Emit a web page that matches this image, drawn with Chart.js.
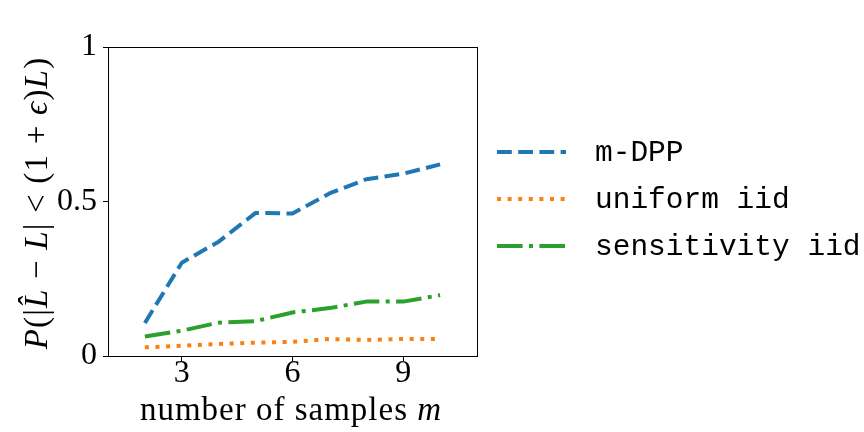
<!DOCTYPE html>
<html>
<head>
<meta charset="utf-8">
<script src="https://cdn.jsdelivr.net/npm/chart.js@4.4.1/dist/chart.umd.min.js"></script>
<style>
    html, body { margin: 0; padding: 0; background: #fff; }
</style>
</head>
<body>
<canvas id="chart" width="864" height="432"></canvas>
<script>
// values
const samples = [2, 3, 4, 5, 6, 7, 8, 9, 10];
const mDpp = [0.107, 0.302, 0.37, 0.463, 0.461, 0.526, 0.572, 0.59, 0.62];
const uniformIid = [0.028, 0.033, 0.039, 0.043, 0.046, 0.055, 0.052, 0.055, 0.055];
const sensitivityIid = [0.063, 0.082, 0.108, 0.113, 0.141, 0.155, 0.176, 0.176, 0.197];
const seriesNames = ['m-DPP', 'uniform iid', 'sensitivity iid'];
const xTicks = [3, 6, 9];
const yTicks = [0, 0.5, 1];
const yTickLabels = ['0', '0.5', '1'];

const SERIF = '"Liberation Serif", "DejaVu Serif", serif';
const MONO = '"Liberation Mono", "DejaVu Sans Mono", monospace';
const LW = 4;

const toPoints = (ys) => ys.map((y, i) => ({ x: samples[i], y: y }));

// draws a line of text made of plain and italic pieces, centred on 0
const drawMixed = (ctx, parts, size, spacing) => {
    ctx.letterSpacing = spacing + 'px';
    let total = 0;
    parts.forEach(p => {
        ctx.font = (p.it ? 'italic ' : '') + size + 'px ' + SERIF;
        p.w = ctx.measureText(p.t).width;
        total += p.w;
    });
    let x = -total / 2;
    parts.forEach(p => {
        ctx.font = (p.it ? 'italic ' : '') + size + 'px ' + SERIF;
        ctx.fillText(p.t, x, 0);
        x += p.w;
    });
    ctx.letterSpacing = '0px';
};

const framePlugin = {
    id: 'frame',
    afterDraw(chart) {
        const { ctx, chartArea: a } = chart;
        ctx.save();
        ctx.strokeStyle = '#000';
        ctx.lineWidth = 1;
        ctx.strokeRect(a.left + 0.5, a.top + 0.5, a.right - a.left, a.bottom - a.top);

        // axis titles
        ctx.fillStyle = '#000';
        ctx.textAlign = 'left';
        ctx.textBaseline = 'alphabetic';
        ctx.save();
        ctx.translate(47, 203);
        ctx.rotate(-Math.PI / 2);
        drawMixed(ctx, [
            { t: 'P', it: true }, { t: '(|' }, { t: 'L\u0302', it: true }, { t: ' \u2212 ' },
            { t: 'L', it: true }, { t: '| < (1 + ' }, { t: '\u03f5', it: true }, { t: ')' },
            { t: 'L', it: true }, { t: ')' },
        ], 33, 1.2);
        ctx.restore();
        ctx.save();
        ctx.translate(291, 420);
        drawMixed(ctx, [{ t: 'number of samples ' }, { t: 'm', it: true }], 33, 1);
        ctx.restore();

        // legend
        const x0 = 497, x1 = 566, tx = 595;
        const rows = [152, 199, 246];
        chart.data.datasets.forEach((ds, i) => {
            ctx.save();
            ctx.strokeStyle = ds.borderColor;
            ctx.lineWidth = LW;
            ctx.lineCap = 'butt';
            ctx.setLineDash(ds.borderDash);
            ctx.beginPath();
            ctx.moveTo(x0, rows[i]);
            ctx.lineTo(x1, rows[i]);
            ctx.stroke();
            ctx.restore();
            ctx.font = '29.5px ' + MONO;
            ctx.textBaseline = 'middle';
            ctx.fillText(ds.label, tx, rows[i] + 1);
        });
        ctx.restore();
    },
};

const lineSet = (label, ys, color, dash) => ({
    label: label,
    data: toPoints(ys),
    borderColor: color,
    backgroundColor: color,
    borderWidth: LW,
    borderDash: dash,
    borderCapStyle: 'butt',
    borderJoinStyle: 'round',
    pointRadius: 0,
    tension: 0,
    fill: false,
});

const chart = new Chart(document.getElementById('chart'), {
    type: 'line',
    data: {
        datasets: [
            lineSet(seriesNames[0], mDpp, '#1f77b4', [14.8, 6.4]),
            lineSet(seriesNames[1], uniformIid, '#ff7f0e', [4, 6.6]),
            lineSet(seriesNames[2], sensitivityIid, '#2ca02c', [25.6, 6.4, 4, 6.4]),
        ],
    },
    options: {
        responsive: false,
        animation: false,
        devicePixelRatio: 1,
        layout: { padding: { left: 0, top: 47, right: 387, bottom: 0 } },
        plugins: { legend: { display: false }, tooltip: { enabled: false } },
        scales: {
            x: {
                type: 'linear',
                min: 1,
                max: 11,
                afterBuildTicks: (s) => { s.ticks = xTicks.map(v => ({ value: v })); },
                afterFit: (s) => { s.height = 76; },
                grid: { drawOnChartArea: false, drawTicks: true, tickLength: 5, color: '#000' },
                border: { display: true, color: '#000', width: 1 },
                ticks: { font: { family: SERIF, size: 32 }, color: '#000', padding: -7, maxRotation: 0 },
            },
            y: {
                min: 0,
                max: 1,
                afterBuildTicks: (s) => { s.ticks = yTicks.map(v => ({ value: v })); },
                afterFit: (s) => { s.width = 108; },
                grid: { drawOnChartArea: false, drawTicks: true, tickLength: 5, color: '#000' },
                border: { display: true, color: '#000', width: 1 },
                ticks: {
                    font: { family: SERIF, size: 32 },
                    color: '#000',
                    padding: 6,
                    callback: (v) => yTickLabels[yTicks.indexOf(v)],
                },
            },
        },
    },
    plugins: [framePlugin],
});
</script>
</body>
</html>
